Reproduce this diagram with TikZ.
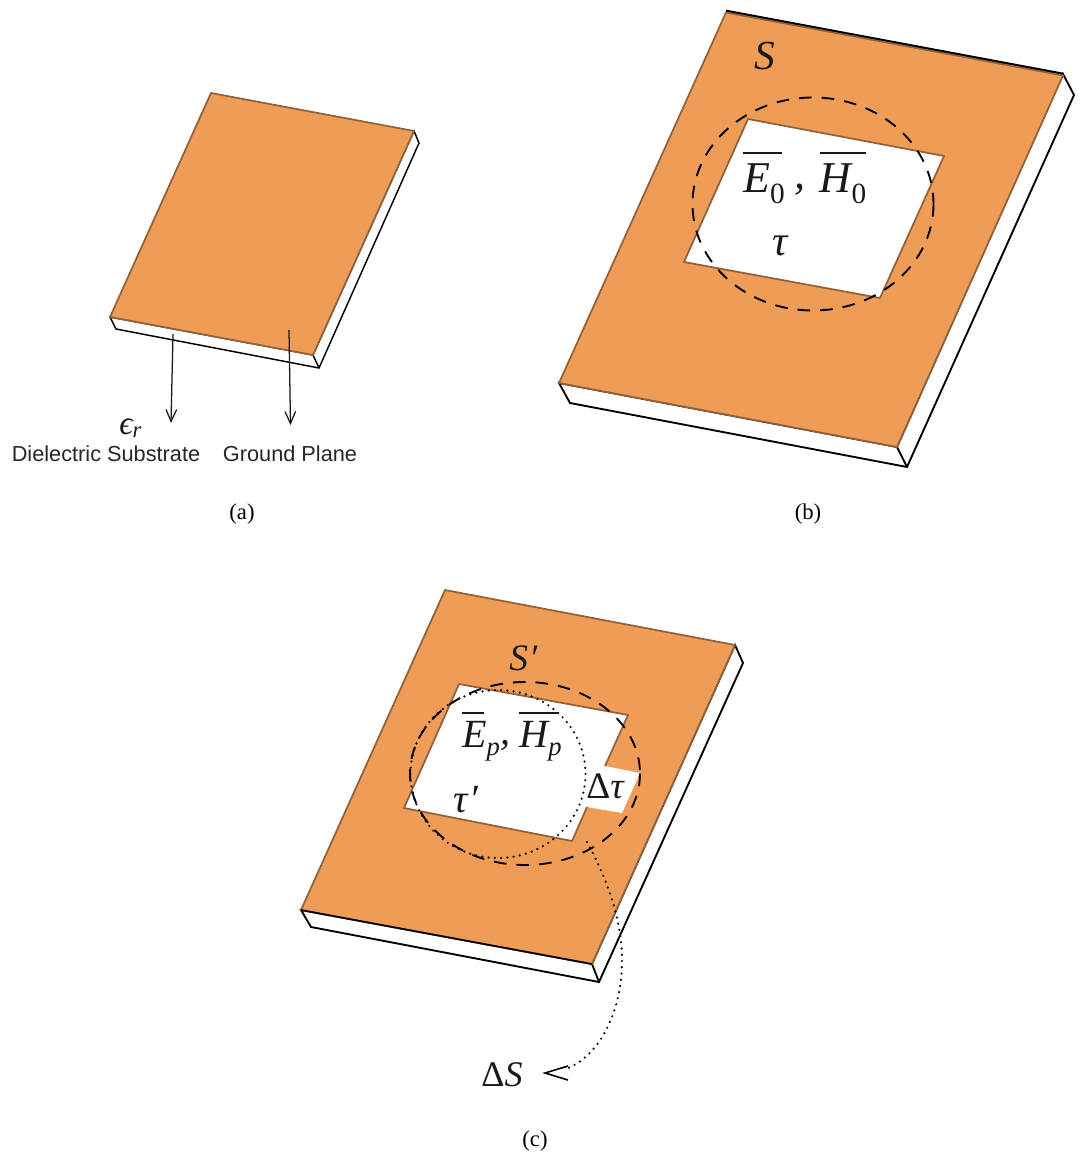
\documentclass[tikz,border=0pt]{standalone}
\usepackage{fontspec}
\setmainfont{Liberation Serif}
\setsansfont{Liberation Sans}
\usetikzlibrary{arrows.meta}
\definecolor{copper}{RGB}{239,156,86}
\definecolor{copperedge}{RGB}{145,98,58}
\newcommand\fz[1]{\fontsize{#1}{#1}\selectfont}
\newcommand\ovb[3]{\leavevmode\rlap{\raisebox{#2}{\rule{#1}{1.5pt}}}{#3}}
\newcommand\subs[3]{\raisebox{-#1}{\fz{#2}#3}}
\tikzset{
  plate/.style={fill=copper,draw=copperedge,line width=1.3pt,line join=round},
  slab/.style={fill=white,draw=black,line width=1.1pt,line join=miter},
  slabbold/.style={fill=white,draw=black,line width=1.4pt,line join=miter},
  aperture/.style={draw=copperedge,line width=1.3pt,line join=round},
  leader/.style={draw=black!90,line width=0.95pt,-{Straight Barb[length=9pt,width=8pt]}},
  sans/.style={font=\sffamily\fz{16.3},inner sep=0pt,text=black!85},
  captxt/.style={font=\fz{17},inner sep=0pt},
  lbl/.style={inner sep=0pt,text=black!90,anchor=base},
  dots/.style={draw=black,line width=1.8pt,dash pattern=on 0pt off 4.7pt,line cap=round},
  dashring/.style={draw=black,line width=1.4pt,dash pattern=on 9.5pt off 7.5pt}
}
\begin{document}
\begin{tikzpicture}[x=0.75pt,y=-0.75pt]
\useasboundingbox (0,0) rectangle (1081,1169);
% ---------- panel a
\coordinate (a1) at (211,93); \coordinate (a2) at (414,131);
\coordinate (a3) at (313,355); \coordinate (a4) at (110,317);
\coordinate (a5) at (419,143); \coordinate (a6) at (319,368); \coordinate (a7) at (116,329);
\draw[slab] (a2) -- (a5) -- (a6) -- (a7) -- (a4) -- (a3) -- cycle;
\draw[slab] (a3) -- (a6);
\draw[plate] (a1) -- (a2) -- (a3) -- (a4) -- cycle;
\coordinate (la1) at (173,334); \coordinate (la2) at (171,423);
\coordinate (lb1) at (289,330); \coordinate (lb2) at (290.5,425);
\draw[leader] (la1) -- (la2);
\draw[leader] (lb1) -- (lb2);
\node[lbl,anchor=base west] (er) at (119,434) {\fz{25}\itshape ϵ\subs{2.5pt}{17}{\itshape r}};
\node[sans] (ds) at (106,454) {Dielectric Substrate};
\node[sans] (gp) at (290,454) {Ground Plane};
\node[captxt] (capa) at (242,514.5) {(a)};
% ---------- panel b
\coordinate (b1) at (726,11); \coordinate (b2) at (1063,74);
\coordinate (bp1) at (726,12.5); \coordinate (bp2) at (1063,75.5);
\coordinate (b3) at (897,447); \coordinate (b4) at (559,383);
\coordinate (b5) at (1074,95); \coordinate (b6) at (907,467); \coordinate (b7) at (570,403);
\draw[slabbold] (b2) -- (b5) -- (b6) -- (b7) -- (b4) -- (b3) -- cycle;
\draw[slabbold] (b3) -- (b6);
\draw[black,line width=2pt] (b1) -- (b2);
\draw[plate] (bp1) -- (bp2) -- (b3) -- (b4) -- cycle;
\coordinate (bh1) at (748,119); \coordinate (bh2) at (944,156);
\coordinate (bh3) at (880,298); \coordinate (bh4) at (684,262);
\draw[aperture,fill=white] (bh1) -- (bh2) -- (bh3) -- (bh4) -- cycle;
\coordinate (bc) at (813,204);
\draw[dashring] (bc) ellipse [x radius=120.5,y radius=106.5];
\node[lbl] (bS) at (765,70) {\fz{31}\itshape S};
\node[lbl,anchor=base west] (bE) at (743,193) {\fz{33}%
  \ovb{29pt}{29pt}{\itshape E}\subs{8pt}{22}{0}\hspace{7pt}\raisebox{3pt}{\itshape ,}\hspace{11pt}%
  \ovb{34.5pt}{29pt}{\itshape H}\subs{8pt}{22}{0}};
\node[lbl] (bt) at (780,256) {\fz{32}\itshape τ};
\node[captxt] (capb) at (808,514.5) {(b)};
% ---------- panel c
\coordinate (c1) at (445,590); \coordinate (c2) at (735,645);
\coordinate (c3) at (592,964); \coordinate (c4) at (301,910);
\coordinate (c5) at (743,663); \coordinate (c6) at (599,982); \coordinate (c7) at (311,927);
\draw[slabbold] (c2) -- (c5) -- (c6) -- (c7) -- (c4) -- (c3) -- cycle;
\draw[slabbold] (c3) -- (c6);
\draw[plate] (c1) -- (c2) -- (c3) -- (c4) -- cycle;
\draw[black,line width=1.2pt] (c4) -- (c3);
\coordinate (ch1) at (459,684); \coordinate (ch2) at (628,715);
\coordinate (ch3) at (605,766); \coordinate (ch4) at (640,773);
\coordinate (ch5) at (622,813); \coordinate (ch6) at (587,807);
\coordinate (ch7) at (572,841); \coordinate (ch8) at (404,808);
\fill[white] (ch1) -- (ch2) -- (ch3) -- (ch4) -- (ch5) -- (ch6) -- (ch7) -- (ch8) -- cycle;
\draw[aperture] (ch3) -- (ch2) -- (ch1) -- (ch8) -- (ch7) -- (ch6);
\coordinate (cc) at (525,773.5);
\draw[dashring] (cc) ellipse [x radius=115,y radius=91.5];
\coordinate (cd) at (498,774);
\draw[dots] (cd) ellipse [x radius=87.5,y radius=84];
\node[lbl,anchor=base west] (cS) at (509,670) {\fz{28}\itshape S\hspace{1pt}′};
\node[lbl,anchor=base west] (cE) at (462,747) {\fz{30}%
  \ovb{16pt}{25pt}{\itshape E}\subs{6pt}{20}{\itshape p}\raisebox{2pt}{\itshape ,}\hspace{7pt}%
  \ovb{29pt}{25pt}{\itshape H}\subs{6pt}{20}{\itshape p}};
\node[lbl] (ct) at (466,812) {\fz{30}\itshape τ\hspace{1pt}′};
\node[lbl] (cdt) at (605,798) {\fz{28}Δ{\itshape τ}};
\node[lbl] (cdS) at (502,1086) {\fz{27}Δ{\itshape S}};
\coordinate (dsA) at (587,842); \coordinate (dsM) at (622,957); \coordinate (dsB) at (568,1068);
\draw[dots] (dsA) .. controls (605,875) and (621,915) .. (dsM)
  .. controls (623,1010) and (600,1055) .. (dsB);
\coordinate (ah1) at (568,1066); \coordinate (ah2) at (545,1073); \coordinate (ah3) at (568,1080);
\draw[black,line width=1.2pt] (ah1) -- (ah2) -- (ah3);
\node[captxt] (capc) at (535,1141) {(c)};
\end{tikzpicture}
\end{document}
